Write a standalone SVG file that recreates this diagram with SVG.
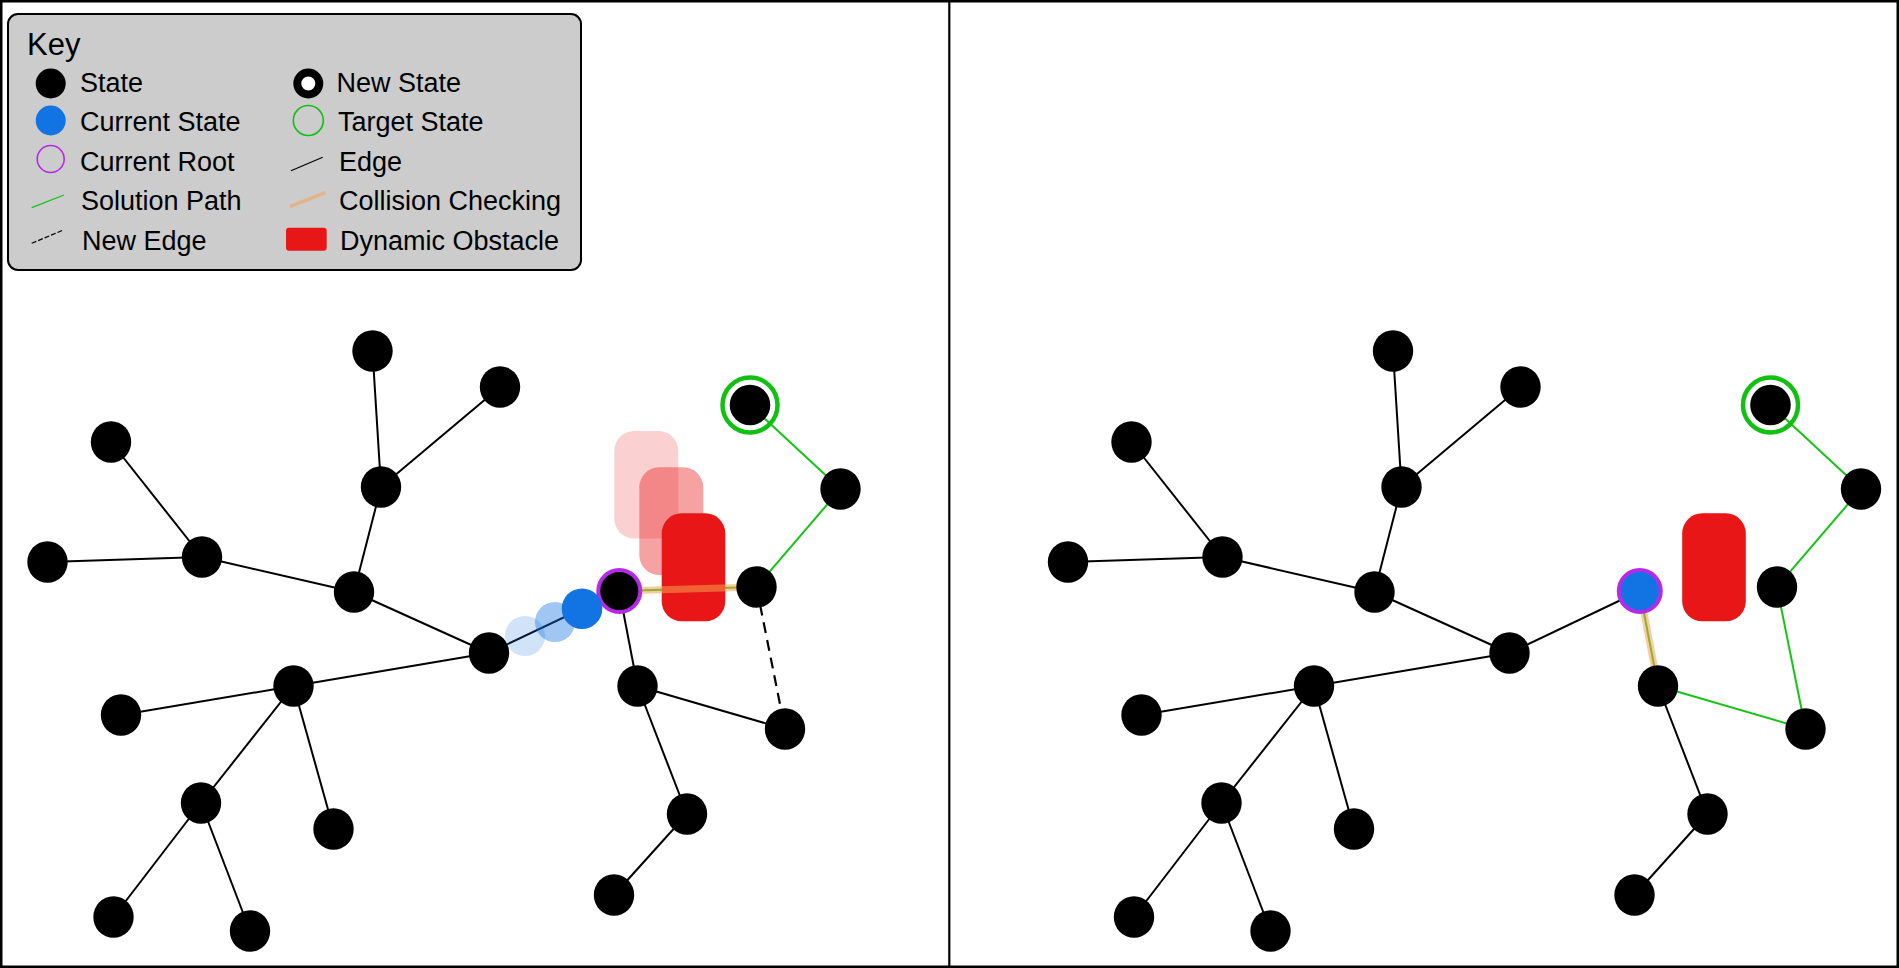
<svg xmlns="http://www.w3.org/2000/svg" width="1899" height="968" viewBox="0 0 1899 968">
<style>
.edge{stroke:#000;stroke-width:2;fill:none}
.sol{stroke:#14c414;stroke-width:2;fill:none}
.dash{stroke:#000;stroke-width:2.2;stroke-dasharray:11,7;fill:none}
.coll{stroke:#f5a050;stroke-opacity:0.55;stroke-width:7;fill:none;stroke-linecap:round}
.st{fill:#000}
.cur{fill:#1273e2}
.root{stroke:#b52ae8;stroke-width:4}
.tgt{fill:none;stroke:#12c012;stroke-width:4.5}
.obs{fill:#e81616}
.lbl{font-family:"Liberation Sans",Arial,sans-serif;font-size:27px;fill:#000}
</style>
<rect x="0" y="0" width="1899" height="968" fill="#fff"/>
<g id="frame">
<rect x="1.25" y="1.25" width="1896.5" height="965.5" fill="none" stroke="#000" stroke-width="2.5"/>
<line x1="949.3" y1="0" x2="949.3" y2="968" stroke="#000" stroke-width="2.2"/>
</g>
<g id="key">
<rect x="8" y="14" width="573" height="256" rx="10" fill="#cccccc" stroke="#000" stroke-width="2"/>
<text class="lbl" x="27" y="55" style="font-size:31px">Key</text>
<circle cx="50.7" cy="83.5" r="15" fill="#000"/>
<text class="lbl" x="80" y="91.5">State</text>
<circle cx="50.7" cy="120.5" r="15" fill="#1273e2"/>
<text class="lbl" x="80" y="131">Current State</text>
<circle cx="50.7" cy="159" r="13.5" fill="none" stroke="#b52ae8" stroke-width="1.6"/>
<text class="lbl" x="80" y="170.5">Current Root</text>
<line x1="31.7" y1="207.7" x2="64" y2="195" stroke="#14c414" stroke-width="1.3"/>
<text class="lbl" x="81" y="210">Solution Path</text>
<line x1="31.7" y1="243.3" x2="63.3" y2="230" stroke="#000" stroke-width="1.2" stroke-dasharray="5,2"/>
<text class="lbl" x="82" y="249.5">New Edge</text>
<circle cx="308.3" cy="83.5" r="11" fill="#fff" stroke="#000" stroke-width="8"/>
<text class="lbl" x="336.5" y="91.5">New State</text>
<circle cx="308.3" cy="120.5" r="15" fill="none" stroke="#12c012" stroke-width="1.6"/>
<text class="lbl" x="338" y="131">Target State</text>
<line x1="291" y1="170.7" x2="322.7" y2="157.3" stroke="#000" stroke-width="1.2"/>
<text class="lbl" x="339" y="170.5">Edge</text>
<line x1="290" y1="206.7" x2="325.3" y2="192.7" class="coll" style="stroke-width:3.5;stroke-linecap:butt"/>
<text class="lbl" x="339" y="210">Collision Checking</text>
<rect x="286" y="227.7" width="40.7" height="23" rx="3" fill="#e81616"/>
<text class="lbl" x="340" y="249.5">Dynamic Obstacle</text>
</g>
<g id="connectors">
<line class="edge" x1="372.5" y1="351" x2="381" y2="487"/>
<line class="edge" x1="500" y1="387" x2="381" y2="487"/>
<line class="edge" x1="381" y1="487" x2="354" y2="592"/>
<line class="edge" x1="111" y1="442" x2="202" y2="557"/>
<line class="edge" x1="47.5" y1="562" x2="202" y2="557"/>
<line class="edge" x1="202" y1="557" x2="354" y2="592"/>
<line class="edge" x1="354" y1="592" x2="489" y2="653"/>
<line class="edge" x1="489" y1="653" x2="293.5" y2="686"/>
<line class="edge" x1="293.5" y1="686" x2="121" y2="715"/>
<line class="edge" x1="293.5" y1="686" x2="201" y2="803"/>
<line class="edge" x1="293.5" y1="686" x2="333.5" y2="829"/>
<line class="edge" x1="201" y1="803" x2="113.5" y2="917"/>
<line class="edge" x1="201" y1="803" x2="250" y2="931"/>
<line class="edge" x1="489" y1="653" x2="619.3" y2="591"/>
<line class="edge" x1="619.3" y1="591" x2="637.5" y2="686"/>
<line class="edge" x1="637.5" y1="686" x2="687" y2="814"/>
<line class="edge" x1="687" y1="814" x2="614" y2="895"/>
<line class="edge" x1="637.5" y1="686" x2="785" y2="729"/>
<line class="dash" x1="756.5" y1="587" x2="785" y2="729"/>
<line class="sol" x1="756.5" y1="587" x2="840.5" y2="489"/>
<line class="sol" x1="840.5" y1="489" x2="750" y2="405"/>
<line class="sol" x1="619.3" y1="591" x2="756.5" y2="587"/>
<line class="edge" x1="1393" y1="351" x2="1401.5" y2="487"/>
<line class="edge" x1="1520.5" y1="387" x2="1401.5" y2="487"/>
<line class="edge" x1="1401.5" y1="487" x2="1374.5" y2="592"/>
<line class="edge" x1="1131.5" y1="442" x2="1222.5" y2="557"/>
<line class="edge" x1="1068" y1="562" x2="1222.5" y2="557"/>
<line class="edge" x1="1222.5" y1="557" x2="1374.5" y2="592"/>
<line class="edge" x1="1374.5" y1="592" x2="1509.5" y2="653"/>
<line class="edge" x1="1509.5" y1="653" x2="1314" y2="686"/>
<line class="edge" x1="1314" y1="686" x2="1141.5" y2="715"/>
<line class="edge" x1="1314" y1="686" x2="1221.5" y2="803"/>
<line class="edge" x1="1314" y1="686" x2="1354" y2="829"/>
<line class="edge" x1="1221.5" y1="803" x2="1134" y2="917"/>
<line class="edge" x1="1221.5" y1="803" x2="1270.5" y2="931"/>
<line class="edge" x1="1509.5" y1="653" x2="1639.8" y2="591"/>
<line class="edge" x1="1658" y1="686" x2="1707.5" y2="814"/>
<line class="edge" x1="1707.5" y1="814" x2="1634.5" y2="895"/>
<line class="sol" x1="1639.8" y1="591" x2="1658" y2="686"/>
<line class="sol" x1="1658" y1="686" x2="1805.5" y2="729"/>
<line class="sol" x1="1805.5" y1="729" x2="1777" y2="587"/>
<line class="sol" x1="1777" y1="587" x2="1861" y2="489"/>
<line class="sol" x1="1861" y1="489" x2="1770.5" y2="405"/>
</g>
<g id="obstacles">
<rect x="614.3" y="431" width="64" height="107.5" rx="20" class="obs" opacity="0.2"/>
<rect x="639.3" y="467.3" width="64" height="107.7" rx="20" class="obs" opacity="0.4"/>
<rect x="661.7" y="513.3" width="63.6" height="108" rx="20" class="obs"/>
<rect x="1682.2" y="513.3" width="63.6" height="108" rx="20" class="obs"/>
</g>
<g id="collision-checks">
<line class="coll" x1="619.3" y1="591" x2="756.5" y2="587"/>
<line class="coll" x1="1639.8" y1="591" x2="1658" y2="686"/>
</g>
<g id="left-nodes">
<g id="L-n1"><ellipse class="st" cx="372.5" cy="351" rx="20.2" ry="20.8"/></g>
<g id="L-n2"><ellipse class="st" cx="500" cy="387" rx="20.2" ry="20.8"/></g>
<g id="L-n3"><ellipse class="st" cx="111" cy="442" rx="20.2" ry="20.8"/></g>
<g id="L-n4"><ellipse class="st" cx="381" cy="487" rx="20.2" ry="20.8"/></g>
<g id="L-n5"><ellipse class="st" cx="47.5" cy="562" rx="20.2" ry="20.8"/></g>
<g id="L-n6"><ellipse class="st" cx="202" cy="557" rx="20.2" ry="20.8"/></g>
<g id="L-n7"><ellipse class="st" cx="354" cy="592" rx="20.2" ry="20.8"/></g>
<g id="L-n8"><ellipse class="st" cx="489" cy="653" rx="20.2" ry="20.8"/></g>
<g id="L-n9"><ellipse class="st" cx="293.5" cy="686" rx="20.2" ry="20.8"/></g>
<g id="L-n10"><ellipse class="st" cx="121" cy="715" rx="20.2" ry="20.8"/></g>
<g id="L-n11"><ellipse class="st" cx="201" cy="803" rx="20.2" ry="20.8"/></g>
<g id="L-n12"><ellipse class="st" cx="333.5" cy="829" rx="20.2" ry="20.8"/></g>
<g id="L-n13"><ellipse class="st" cx="113.5" cy="917" rx="20.2" ry="20.8"/></g>
<g id="L-n14"><ellipse class="st" cx="250" cy="931" rx="20.2" ry="20.8"/></g>
<g id="L-n15"><ellipse class="st" cx="637.5" cy="686" rx="20.2" ry="20.8"/></g>
<g id="L-n16"><ellipse class="st" cx="687" cy="814" rx="20.2" ry="20.8"/></g>
<g id="L-n17"><ellipse class="st" cx="614" cy="895" rx="20.2" ry="20.8"/></g>
<g id="L-n18"><ellipse class="st" cx="785" cy="729" rx="20.2" ry="20.8"/></g>
<g id="L-n19"><ellipse class="st" cx="756.5" cy="587" rx="20.2" ry="20.8"/></g>
<g id="L-n20"><ellipse class="st" cx="840.5" cy="489" rx="20.2" ry="20.8"/></g>
<g id="L-target"><circle class="tgt" cx="750" cy="405" r="27.5"/><circle class="st" cx="750" cy="405" r="20.3"/></g>
<g id="L-root"><circle class="root" cx="619.3" cy="591" r="21" fill="#000"/></g>
<g id="L-current-trail"><circle cx="525" cy="636" r="20" fill="#1273e2" opacity="0.2"/><circle cx="555" cy="622" r="20" fill="#1273e2" opacity="0.4"/></g>
<g id="L-current"><circle class="cur" cx="582" cy="608.7" r="20.3"/></g>
</g>
<g id="right-nodes">
<g id="R-n1"><ellipse class="st" cx="1393" cy="351" rx="20.2" ry="20.8"/></g>
<g id="R-n2"><ellipse class="st" cx="1520.5" cy="387" rx="20.2" ry="20.8"/></g>
<g id="R-n3"><ellipse class="st" cx="1131.5" cy="442" rx="20.2" ry="20.8"/></g>
<g id="R-n4"><ellipse class="st" cx="1401.5" cy="487" rx="20.2" ry="20.8"/></g>
<g id="R-n5"><ellipse class="st" cx="1068" cy="562" rx="20.2" ry="20.8"/></g>
<g id="R-n6"><ellipse class="st" cx="1222.5" cy="557" rx="20.2" ry="20.8"/></g>
<g id="R-n7"><ellipse class="st" cx="1374.5" cy="592" rx="20.2" ry="20.8"/></g>
<g id="R-n8"><ellipse class="st" cx="1509.5" cy="653" rx="20.2" ry="20.8"/></g>
<g id="R-n9"><ellipse class="st" cx="1314" cy="686" rx="20.2" ry="20.8"/></g>
<g id="R-n10"><ellipse class="st" cx="1141.5" cy="715" rx="20.2" ry="20.8"/></g>
<g id="R-n11"><ellipse class="st" cx="1221.5" cy="803" rx="20.2" ry="20.8"/></g>
<g id="R-n12"><ellipse class="st" cx="1354" cy="829" rx="20.2" ry="20.8"/></g>
<g id="R-n13"><ellipse class="st" cx="1134" cy="917" rx="20.2" ry="20.8"/></g>
<g id="R-n14"><ellipse class="st" cx="1270.5" cy="931" rx="20.2" ry="20.8"/></g>
<g id="R-n15"><ellipse class="st" cx="1658" cy="686" rx="20.2" ry="20.8"/></g>
<g id="R-n16"><ellipse class="st" cx="1707.5" cy="814" rx="20.2" ry="20.8"/></g>
<g id="R-n17"><ellipse class="st" cx="1634.5" cy="895" rx="20.2" ry="20.8"/></g>
<g id="R-n18"><ellipse class="st" cx="1805.5" cy="729" rx="20.2" ry="20.8"/></g>
<g id="R-n19"><ellipse class="st" cx="1777" cy="587" rx="20.2" ry="20.8"/></g>
<g id="R-n20"><ellipse class="st" cx="1861" cy="489" rx="20.2" ry="20.8"/></g>
<g id="R-target"><circle class="tgt" cx="1770.5" cy="405" r="27.5"/><circle class="st" cx="1770.5" cy="405" r="20.3"/></g>
<g id="R-current"><circle class="root" cx="1639.8" cy="591" r="21" fill="#1273e2"/></g>
</g>
</svg>
